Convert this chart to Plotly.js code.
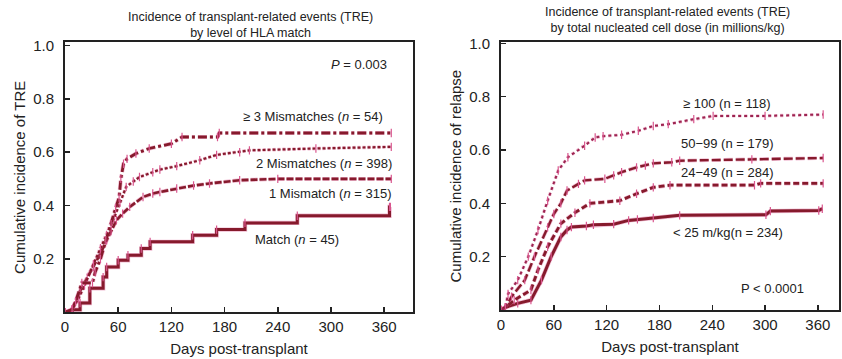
<!DOCTYPE html>
<html>
<head>
<meta charset="utf-8">
<script src="https://cdn.plot.ly/plotly-3.0.1.min.js"></script>
<style>html,body{margin:0;padding:0;background:#fff;}#chart{width:842px;height:359px;}</style>
</head>
<body>
<div id="chart"></div>
<script>
// ---------- Data ----------
// Left panel: TRE by level of HLA match
const ge3Days   = [0, 8, 12, 19, 31, 34, 40, 46, 52, 57, 61, 63, 66, 70, 80, 95, 120, 132, 172, 174, 368];
const ge3Vals   = [0, 0.01, 0.04, 0.11, 0.11, 0.15, 0.2, 0.27, 0.33, 0.39, 0.43, 0.5, 0.557, 0.575, 0.595, 0.614, 0.632, 0.657, 0.657, 0.672, 0.672];
const mm2Days   = [0, 8, 15, 22, 32, 40, 47, 55, 62, 69, 77, 84, 99, 107, 126, 152, 171, 197, 208, 283, 368];
const mm2Vals   = [0, 0.01, 0.05, 0.1, 0.18, 0.24, 0.29, 0.35, 0.41, 0.47, 0.49, 0.507, 0.525, 0.535, 0.548, 0.57, 0.59, 0.6, 0.607, 0.614, 0.62];
const mm1Days   = [0, 8, 17, 25, 32, 40, 47, 52, 58, 65, 73, 88, 99, 107, 126, 145, 163, 197, 240, 368];
const mm1Vals   = [0, 0.01, 0.08, 0.13, 0.17, 0.22, 0.27, 0.305, 0.345, 0.37, 0.395, 0.432, 0.445, 0.451, 0.464, 0.475, 0.483, 0.495, 0.5, 0.5];
const matchDays = [0, 8, 17, 28, 43, 47, 60, 71, 86, 96, 144, 171, 203, 262, 366, 367];
const matchVals = [0, 0.01, 0.035, 0.09, 0.132, 0.17, 0.195, 0.214, 0.239, 0.264, 0.289, 0.31, 0.335, 0.362, 0.395, 0.395];

// Right panel: TRE by total nucleated cell dose
const d100Days = [0, 5, 8, 19, 31, 42, 53, 65, 76, 95, 107, 116, 137, 156, 173, 190, 219, 241, 300, 366];
const d100Vals = [0, 0.01, 0.06, 0.112, 0.2, 0.3, 0.41, 0.523, 0.573, 0.616, 0.647, 0.652, 0.657, 0.672, 0.69, 0.697, 0.716, 0.728, 0.728, 0.733];
const d50Days  = [0, 5, 12, 27, 38, 53, 60, 68, 75, 88, 95, 118, 128, 137, 154, 164, 173, 194, 203, 285, 366];
const d50Vals  = [0, 0.01, 0.05, 0.112, 0.2, 0.31, 0.36, 0.4, 0.448, 0.473, 0.486, 0.492, 0.505, 0.517, 0.535, 0.542, 0.55, 0.554, 0.56, 0.565, 0.57];
const d24Days  = [0, 5, 15, 34, 42, 53, 68, 84, 101, 135, 154, 173, 192, 288, 295, 366];
const d24Vals  = [0, 0.01, 0.037, 0.075, 0.15, 0.237, 0.324, 0.365, 0.4, 0.41, 0.436, 0.46, 0.468, 0.468, 0.475, 0.475];
const d0Days   = [0, 5, 19, 34, 46, 57, 68, 75, 80, 97, 105, 128, 145, 155, 173, 203, 301, 306, 361, 365];
const d0Vals   = [0, 0.01, 0.025, 0.037, 0.112, 0.2, 0.274, 0.3, 0.311, 0.315, 0.32, 0.322, 0.336, 0.34, 0.345, 0.355, 0.357, 0.371, 0.373, 0.38];

const xTickVals = [0, 60, 120, 180, 240, 300, 360];
const yTickVals = [0.2, 0.4, 0.6, 0.8, 1.0];
const yTickText = ['0.2', '0.4', '0.6', '0.8', '1.0'];

// ---------- Styling ----------
const W = 842, H = 359;
const px = x => x / W;
const py = y => 1 - y / H;
const DARK = '#861a2c';
const PINK = '#d9568e';
const FONT = 'Liberation Sans, Arial, Helvetica, sans-serif';
const TXT = '#222';

function curve(xs, ys, xa, ya, dash, width, color, shape) {
  const under = {
    x: xs, y: ys, xaxis: xa, yaxis: ya, type: 'scatter', mode: 'lines',
    line: {color: PINK, width: width + 1.4, dash: dash, shape: shape || 'linear'},
    opacity: 0.4, hoverinfo: 'skip', showlegend: false
  };
  const main = {
    x: xs, y: ys, xaxis: xa, yaxis: ya, type: 'scatter', mode: 'lines+markers',
    line: {color: color || DARK, width: width, dash: dash, shape: shape || 'linear'},
    marker: {symbol: 'line-ns-open', size: 6, color: PINK, line: {color: PINK, width: 1.2}},
    showlegend: false
  };
  return [under, main];
}

const traces = [].concat(
  curve(matchDays, matchVals, 'x', 'y', 'solid', 3, DARK, 'hv'),
  curve(mm1Days, mm1Vals, 'x', 'y', '7px,2px', 2.6),
  curve(mm2Days, mm2Vals, 'x', 'y', '3px,2px', 2.2),
  curve(ge3Days, ge3Vals, 'x', 'y', '9px,3px,3px,3px', 2.8),
  curve(d0Days, d0Vals, 'x2', 'y2', 'solid', 3),
  curve(d24Days, d24Vals, 'x2', 'y2', '6px,3px', 2.8),
  curve(d50Days, d50Vals, 'x2', 'y2', '9px,3px', 2.4),
  curve(d100Days, d100Vals, 'x2', 'y2', '3px,3px', 2, '#9c2450')
);

function xax(domain, range) {
  return {
    domain: domain, range: range, tickvals: xTickVals, ticks: 'inside', ticklen: 5,
    tickwidth: 1.5, tickcolor: TXT, showline: true, mirror: true, linewidth: 2, linecolor: TXT,
    showgrid: false, zeroline: false, fixedrange: true,
    tickfont: {family: FONT, size: 15, color: TXT},
    title: {text: 'Days post-transplant', font: {family: FONT, size: 15, color: TXT}, standoff: 9}
  };
}
function yax(domain, range, title, anchor) {
  return {
    domain: domain, range: range, tickvals: yTickVals, ticktext: yTickText, ticks: 'inside',
    ticklen: 5, tickwidth: 1.5, tickcolor: TXT, showline: true, mirror: true, linewidth: 2,
    linecolor: TXT, showgrid: false, zeroline: false, fixedrange: true, anchor: anchor,
    ticklabelstandoff: 6,
    tickfont: {family: FONT, size: 15, color: TXT},
    title: {text: title, font: {family: FONT, size: 15, color: TXT}, standoff: 4}
  };
}

function ann(text, x, y, xanchor, size) {
  return {text: text, x: px(x), y: py(y), xref: 'paper', yref: 'paper', xanchor: xanchor || 'center',
    yanchor: 'middle', showarrow: false, font: {family: FONT, size: size || 13, color: TXT}};
}

const layout = {
  width: W, height: H,
  margin: {l: 0, r: 0, t: 0, b: 0},
  paper_bgcolor: '#fff', plot_bgcolor: '#fff',
  showlegend: false,
  xaxis: xax([px(65), px(413)], [0, 392.5]),
  yaxis: yax([py(312.3), py(42.3)], [0, 1.012], 'Cumulative incidence of TRE', 'x'),
  xaxis2: Object.assign(xax([px(501), px(839)], [0, 384]), {anchor: 'y2'}),
  yaxis2: yax([py(310), py(42.3)], [0, 1.004], 'Cumulative incidence of relapse', 'x2'),
  annotations: [
    ann('Incidence of transplant-related events (TRE)<br>by level of HLA match', 250, 25, 'center', 12.5),
    ann('Incidence of transplant-related events (TRE)<br>by total nucleated cell dose (in millions/kg)', 667, 20, 'center', 12.5),
    ann('<i>P</i> = 0.003', 389, 65, 'right'),
    ann('≥ 3 Mismatches (<i>n</i> = 54)', 385, 117, 'right'),
    ann('2 Mismatches (<i>n</i> = 398)', 394, 163, 'right'),
    ann('1 Mismatch (<i>n</i> = 315)', 393, 194, 'right'),
    ann('Match (<i>n</i> = 45)', 253, 239, 'left'),
    ann('≥ 100 (n = 118)', 726, 103),
    ann('50−99 (n = 179)', 727, 143),
    ann('24−49 (n = 284)', 727, 172),
    ann('< 25 m/kg(n = 234)', 728, 232),
    ann('P < 0.0001', 772, 288)
  ]
};

Plotly.newPlot('chart', traces, layout, {displayModeBar: false, staticPlot: true});
</script>
</body>
</html>
